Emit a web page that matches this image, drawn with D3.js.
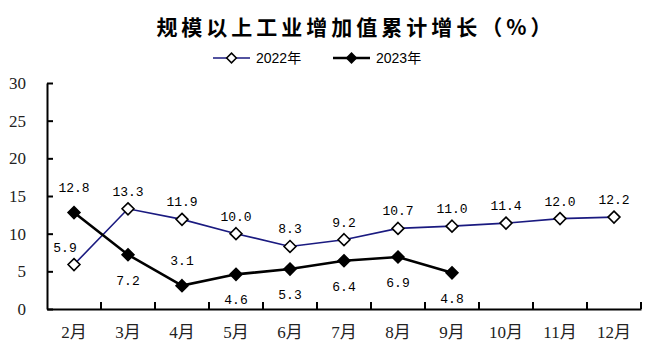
<!DOCTYPE html>
<html>
<head>
<meta charset="utf-8">
<script src="https://cdn.jsdelivr.net/npm/d3@7"></script>
<style>
  body { margin: 0; background: #fff; }
  svg { display: block; }
</style>
</head>
<body>
<div id="chart"></div>
<script>
const months = ["2月", "3月", "4月", "5月", "6月", "7月", "8月", "9月", "10月", "11月", "12月"];
const values2022 = [5.9, 13.3, 11.9, 10.0, 8.3, 9.2, 10.7, 11.0, 11.4, 12.0, 12.2];
const values2023 = [12.8, 7.2, 3.1, 4.6, 5.3, 6.4, 6.9, 4.8];
const yTicks = [0, 5, 10, 15, 20, 25, 30];
const seriesNames = ["2022年", "2023年"];

const width = 654;
const height = 353;
const margin = { top: 83, right: 13, bottom: 44, left: 47 };

const svg = d3.select("#chart")
  .append("svg")
  .attr("width", width)
  .attr("height", height);

const x = d3.scaleBand()
  .domain(months)
  .range([margin.left, width - margin.right]);

const y = d3.scaleLinear()
  .domain([0, 30])
  .range([height - margin.bottom, margin.top]);

// title
svg.append("text")
  .attr("x", 356)
  .attr("y", 35)
  .attr("text-anchor", "middle")
  .attr("font-family", "'Noto Sans CJK SC'")
  .attr("font-weight", "bold")
  .attr("font-size", 21)
  .attr("letter-spacing", 4)
  .text("规模以上工业增加值累计增长（%）");

// axes
const yAxis = svg.append("g")
  .attr("transform", `translate(${margin.left},0)`)
  .call(d3.axisLeft(y).tickValues(yTicks).tickSize(-6).tickPadding(21).tickSizeOuter(0));

const xAxis = svg.append("g")
  .attr("transform", `translate(0,${height - margin.bottom})`)
  .call(d3.axisBottom(x).tickSize(0).tickPadding(17));

// inward ticks between categories
xAxis.selectAll(".between")
  .data(months)
  .join("line")
  .attr("class", "between")
  .attr("x1", (d) => x(d) + x.bandwidth())
  .attr("x2", (d) => x(d) + x.bandwidth())
  .attr("y1", 0)
  .attr("y2", -7)
  .attr("stroke", "#000")
  .attr("stroke-width", 2);

svg.selectAll(".domain, .tick line").attr("stroke", "#000").attr("stroke-width", 2);
yAxis.selectAll(".tick text")
  .attr("font-family", "'Liberation Serif', serif")
  .attr("font-size", 17)
  .attr("fill", "#222");
xAxis.selectAll(".tick text")
  .attr("font-family", "'Liberation Serif', 'Noto Sans CJK SC', serif")
  .attr("font-size", 17)
  .attr("fill", "#222");

const cx = (i) => x(months[i]) + x.bandwidth() / 2;
const line = d3.line().x((d, i) => cx(i)).y((d) => y(d));
const diamond = d3.symbol().type(d3.symbolDiamond2).size(90);

// 2022 series
svg.append("path")
  .datum(values2022)
  .attr("fill", "none")
  .attr("stroke", "#1a1a80")
  .attr("stroke-width", 1.6)
  .attr("d", line);

// 2023 series
svg.append("path")
  .datum(values2023)
  .attr("fill", "none")
  .attr("stroke", "#000")
  .attr("stroke-width", 2.6)
  .attr("d", line);

svg.append("g")
  .selectAll("path")
  .data(values2022)
  .join("path")
  .attr("transform", (d, i) => `translate(${cx(i)},${y(d)})`)
  .attr("d", diamond)
  .attr("fill", "#fff")
  .attr("stroke", "#000")
  .attr("stroke-width", 1.6);

svg.append("g")
  .selectAll("path")
  .data(values2023)
  .join("path")
  .attr("transform", (d, i) => `translate(${cx(i)},${y(d)})`)
  .attr("d", diamond)
  .attr("fill", "#000")
  .attr("stroke", "#000")
  .attr("stroke-width", 1.6);

// data labels
const labelFont = "'Liberation Mono', 'DejaVu Sans Mono', monospace";

svg.append("g")
  .selectAll("text")
  .data(values2022)
  .join("text")
  .attr("x", (d, i) => cx(i) - (d < (values2023[i] ?? -1) ? 9 : 0))
  .attr("y", (d) => y(d) - 13)
  .attr("text-anchor", "middle")
  .attr("font-family", labelFont)
  .attr("font-size", 13)
  .text((d) => d.toFixed(1));

svg.append("g")
  .selectAll("text")
  .data(values2023)
  .join("text")
  .attr("x", (d, i) => cx(i))
  .attr("y", (d, i) => {
    // above when over the 2022 line or too close to the axis
    const above = d > values2022[i] || d < 4;
    return above ? y(d) - 21 : y(d) + 30;
  })
  .attr("text-anchor", "middle")
  .attr("font-family", labelFont)
  .attr("font-size", 13)
  .text((d) => d.toFixed(1));

// legend
const legend = svg.append("g").attr("transform", "translate(213,58)");
const legendItems = [
  { name: seriesNames[0], stroke: "#1a1a80", width: 1.6, fill: "#fff", x: 0 },
  { name: seriesNames[1], stroke: "#000", width: 2.6, fill: "#000", x: 120 },
];
const li = legend.selectAll("g")
  .data(legendItems)
  .join("g")
  .attr("transform", (d) => `translate(${d.x},0)`);
li.append("line")
  .attr("x1", 0).attr("x2", 37)
  .attr("stroke", (d) => d.stroke)
  .attr("stroke-width", (d) => d.width);
li.append("path")
  .attr("transform", "translate(18.5,0)")
  .attr("d", d3.symbol().type(d3.symbolDiamond2).size(60))
  .attr("fill", (d) => d.fill)
  .attr("stroke", "#000")
  .attr("stroke-width", 1.5);
li.append("text")
  .attr("x", 43)
  .attr("y", 5)
  .attr("font-family", "'Liberation Sans', 'Noto Sans CJK SC', sans-serif")
  .attr("font-size", 14)
  .text((d) => d.name);
</script>
</body>
</html>
